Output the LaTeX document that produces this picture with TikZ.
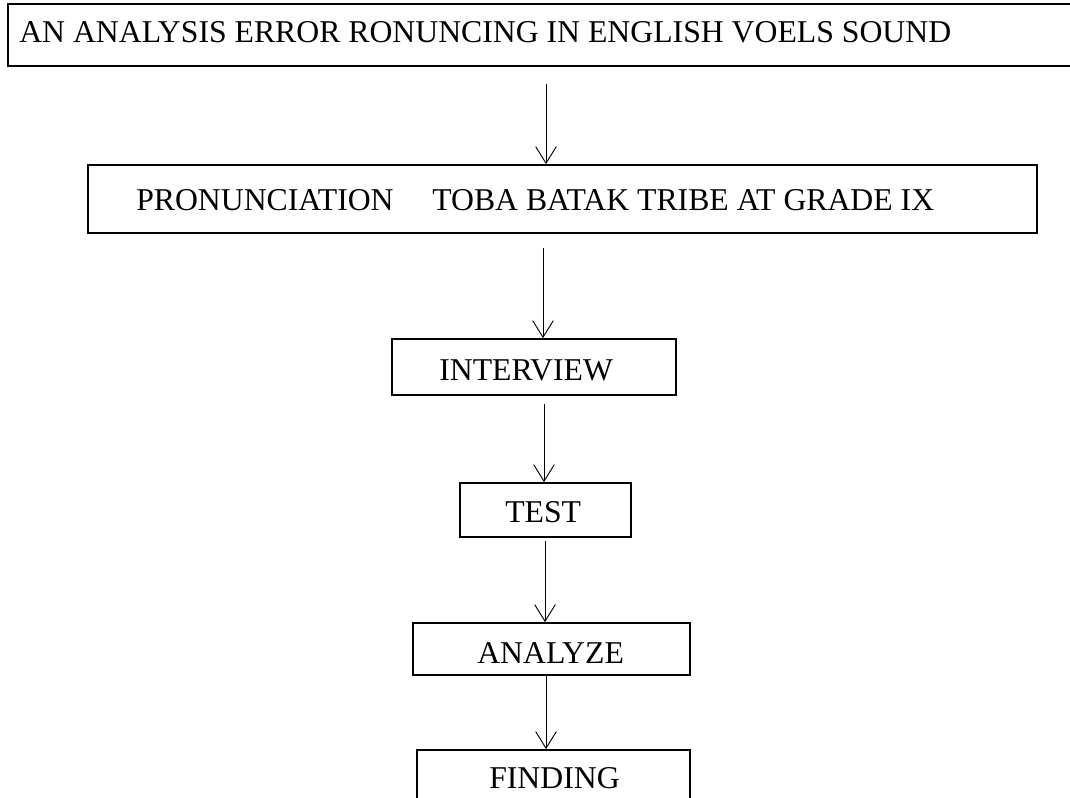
\documentclass[tikz,border=0pt]{standalone}
\usepackage{fontspec}
\setmainfont{Liberation Serif}
\usetikzlibrary{arrows.meta}
\tikzset{
  boxnode/.style 2 args={draw=black, line width=1.3pt, rectangle, inner sep=0pt,
    minimum width=#1*0.75pt, minimum height=#2*0.75pt},
  lbl/.style={anchor=base west, inner sep=0pt, font=\fontsize{23.8}{28}\selectfont},
  arr/.style={draw=black, line width=0.7pt, -{Straight Barb[length=12.5pt,width=15.5pt,line width=0.7pt]}}
}
\begin{document}
\begin{tikzpicture}[x=0.75pt,y=-0.75pt]
\useasboundingbox (0,0) rectangle (1070,797);
% boxes
\node[boxnode={1072}{62}] (top) at (544,35) {};
\node[boxnode={949}{68}] (second) at (562.5,199) {};
\node[boxnode={284}{56}] (interview) at (534,367) {};
\node[boxnode={171}{54}] (test) at (545.5,510) {};
\node[boxnode={277}{52}] (analyze) at (551.5,649) {};
\node[boxnode={273}{50}] (finding) at (553.5,775) {};
% labels
\node[lbl] (toptxt) at (19,42) {AN ANALYSIS ERROR RONUNCING IN ENGLISH VOELS SOUND};
\node[lbl] (secondtxt) at (136,210) {PRONUNCIATION\hspace{29pt}TOBA BATAK TRIBE AT GRADE IX};
\node[lbl] (interviewtxt) at (439,380) {INTERVIEW};
\node[lbl] (testtxt) at (505,522) {TEST};
\node[lbl] (analyzetxt) at (477,663) {ANALYZE};
\node[lbl] (findingtxt) at (489,788) {FINDING};
% arrow columns
\coordinate (c1) at (546,0);
\coordinate (c2) at (543,0);
\coordinate (c3) at (544,0);
\coordinate (c4) at (545,0);
\coordinate (c5) at (546,0);
% connectors
\draw[arr, shorten <=12.75pt] (top.south -| c1) -- (second.north -| c1);
\draw[arr, shorten <=10.5pt] (second.south -| c2) -- (interview.north -| c2);
\draw[arr, shorten <=6pt] (interview.south -| c3) -- (test.north -| c3);
\draw[arr, shorten <=2.25pt] (test.south -| c4) -- (analyze.north -| c4);
\draw[arr] (analyze.south -| c5) -- (finding.north -| c5);
\end{tikzpicture}
\end{document}
